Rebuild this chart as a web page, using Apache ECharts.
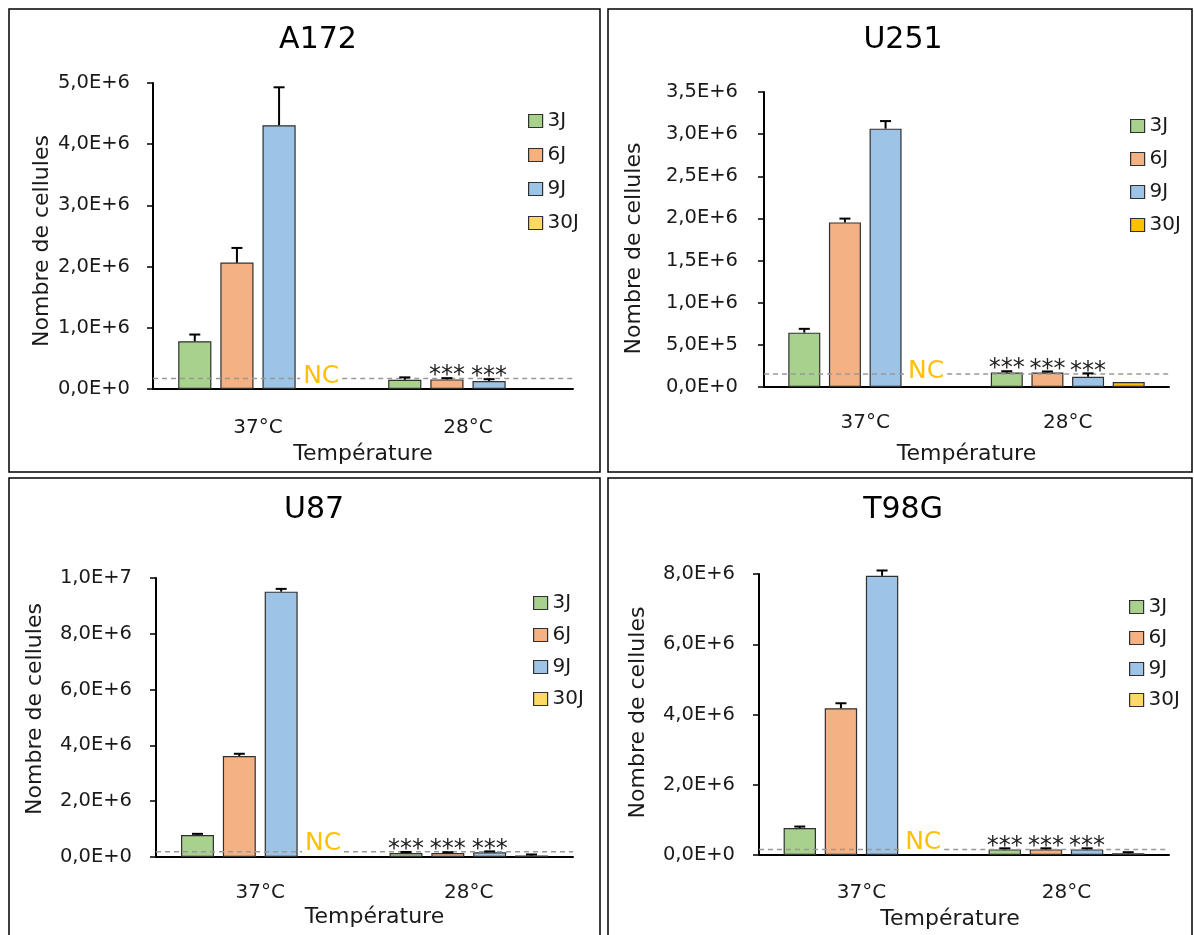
<!DOCTYPE html>
<html><head><meta charset="utf-8">
<script src="https://cdn.jsdelivr.net/npm/echarts@6/dist/echarts.min.js"></script>
<style>html,body{margin:0;padding:0;background:#fff}#c{width:1194px;height:935px}</style>
</head><body><div id="c"></div>
<script>
// ---------- shared labels ----------
const categories = ['37°C', '28°C'];
const seriesNames = ['3J', '6J', '9J', '30J'];
const xAxisName = 'Température';
const yAxisName = 'Nombre de cellules';
const ncText = 'NC';

// ---------- A172 ----------
const a172Means  = [[780000, 150000], [2065000, 157000], [4310000, 130000], [null, null]];
const a172Errors = [[110000, 40000], [240000, 20000], [620000, 30000], [null, null]];
const a172Stars  = [['', ''], ['', '***'], ['', '***'], ['', '']];
const a172NC = 170000;
const a172Ticks = ['0,0E+0', '1,0E+6', '2,0E+6', '3,0E+6', '4,0E+6', '5,0E+6'];
const a172Interval = 1000000;

// ---------- U251 ----------
const u251Means  = [[645000, 172000], [1953000, 172000], [3065000, 122000], [null, 60000]];
const u251Errors = [[45000, 15000], [45000, 12000], [90000, 40000], [null, 0]];
const u251Stars  = [['', '***'], ['', '***'], ['', '***'], ['', '']];
const u251NC = 154000;
const u251Ticks = ['0,0E+0', '5,0E+5', '1,0E+6', '1,5E+6', '2,0E+6', '2,5E+6', '3,0E+6', '3,5E+6'];
const u251Interval = 500000;

// ---------- U87 ----------
const u87Means  = [[790000, 140000], [3620000, 140000], [9510000, 170000], [null, 50000]];
const u87Errors = [[40000, 40000], [80000, 30000], [100000, 30000], [null, 40000]];
const u87Stars  = [['', '***'], ['', '***'], ['', '***'], ['', '']];
const u87NC = 190000;
const u87Ticks = ['0,0E+0', '2,0E+6', '4,0E+6', '6,0E+6', '8,0E+6', '1,0E+7'];
const u87Interval = 2000000;

// ---------- T98G ----------
const t98gMeans  = [[770000, 160000], [4180000, 160000], [7950000, 160000], [null, 50000]];
const t98gErrors = [[40000, 30000], [140000, 30000], [150000, 30000], [null, 30000]];
const t98gStars  = [['', '***'], ['', '***'], ['', '***'], ['', '']];
const t98gNC = 160000;
const t98gTicks = ['0,0E+0', '2,0E+6', '4,0E+6', '6,0E+6', '8,0E+6'];
const t98gInterval = 2000000;

// ---------- styling / layout ----------
const FONT = 'DejaVu Sans';
const TXT = '#1a1a1a';
const BAR_GAP = 0.27, CAT_GAP = 0.24;
const colorsLight = ['#A9D18E', '#F4B183', '#9DC3E6', '#FFD966'];
const colorsU251  = ['#A9D18E', '#F4B183', '#9DC3E6', '#FFC000'];
const BORDER = '#303030';

const panels = [
  { title: 'A172', means: a172Means, errors: a172Errors, stars: a172Stars, nc: a172NC, ticks: a172Ticks, interval: a172Interval, colors: colorsLight,
    grid: { left: 153, top: 83, width: 420, height: 306 }, titlePos: [318, 40], legend: { left: 528, top: 111, gap: 14 }, ncDy: 2.5,
    yNameGap: 100, yNamePad: [0, 10, 0, 0], xNameGap: 54, xNamePad: [0, 0, 0, 0], catMargin: 29, labelMargin: 23, box: [9, 9, 591, 463] },
  { title: 'U251', means: u251Means, errors: u251Errors, stars: u251Stars, nc: u251NC, ticks: u251Ticks, interval: u251Interval, colors: colorsU251,
    grid: { left: 764, top: 92, width: 405, height: 295 }, titlePos: [903, 40], legend: { left: 1130, top: 116, gap: 13 }, ncDy: 3,
    yNameGap: 119, yNamePad: [0, 18, 0, 0], xNameGap: 56, xNamePad: [0, 0, 0, 0], catMargin: 26, labelMargin: 26, box: [608, 9, 584, 463] },
  { title: 'U87', means: u87Means, errors: u87Errors, stars: u87Stars, nc: u87NC, ticks: u87Ticks, interval: u87Interval, colors: colorsLight,
    grid: { left: 156, top: 578, width: 417, height: 279 }, titlePos: [314, 510], legend: { left: 533, top: 593, gap: 12 }, ncDy: 8,
    yNameGap: 110, yNamePad: [0, 0, 0, 17], xNameGap: 49, xNamePad: [0, 0, 0, 20], catMargin: 26, labelMargin: 24, box: [9, 478, 591, 470] },
  { title: 'T98G', means: t98gMeans, errors: t98gErrors, stars: t98gStars, nc: t98gNC, ticks: t98gTicks, interval: t98gInterval, colors: colorsLight,
    grid: { left: 759, top: 574, width: 410, height: 281 }, titlePos: [903, 510], legend: { left: 1129, top: 597, gap: 11 }, ncDy: 6.5,
    yNameGap: 110, yNamePad: [0, 0, 0, 4], xNameGap: 53, xNamePad: [0, 28, 0, 0], catMargin: 28, labelMargin: 24, box: [608, 478, 584, 470] }
];

function slotX(api, cat, slot) {
  const band = api.size([1, 0])[0];
  const groupW = band * (1 - CAT_GAP);
  const bw = groupW / (seriesNames.length + (seriesNames.length - 1) * BAR_GAP);
  return { x: api.coord([cat, 0])[0] - groupW / 2 + slot * bw * (1 + BAR_GAP) + bw / 2, bw: bw };
}

const option = {
  animation: false,
  backgroundColor: '#fff',
  textStyle: { fontFamily: FONT },
  grid: [], xAxis: [], yAxis: [], series: [], legend: [], graphic: []
};

panels.forEach((p, pi) => {
  option.grid.push(Object.assign({ containLabel: false }, p.grid));
  option.xAxis.push({
    type: 'category', gridIndex: pi, data: categories,
    axisLine: { lineStyle: { color: '#000', width: 2 } },
    axisTick: { show: false },
    axisLabel: { fontFamily: FONT, fontSize: 20, color: TXT, margin: p.catMargin },
    name: xAxisName, nameLocation: 'middle', nameGap: p.xNameGap,
    nameTextStyle: { fontFamily: FONT, fontSize: 22, color: TXT, padding: p.xNamePad }
  });
  const interval = p.interval, ticks = p.ticks;
  option.yAxis.push({
    type: 'value', gridIndex: pi, min: 0, max: (ticks.length - 1) * interval, interval: interval,
    axisLine: { show: true, lineStyle: { color: '#000', width: 2 } },
    axisTick: { show: true, length: 6, lineStyle: { color: '#000', width: 1.5 } },
    splitLine: { show: false },
    axisLabel: { fontFamily: FONT, fontSize: 19.5, color: TXT, margin: p.labelMargin,
      formatter: v => { const t = ticks[Math.round(v / interval)]; return t === undefined ? '' : t; } },
    name: yAxisName, nameLocation: 'middle', nameGap: p.yNameGap,
    nameTextStyle: { fontFamily: FONT, fontSize: 22, color: TXT, padding: p.yNamePad }
  });
  seriesNames.forEach((n, si) => {
    option.series.push({
      type: 'bar', name: n, xAxisIndex: pi, yAxisIndex: pi, data: p.means[si],
      barGap: (BAR_GAP * 100) + '%', barCategoryGap: (CAT_GAP * 100) + '%',
      itemStyle: { color: p.colors[si], borderColor: BORDER, borderWidth: 1.2 },
      emphasis: { disabled: true }, z: 2
    });
  });
  // error bars + significance stars
  const errData = [];
  seriesNames.forEach((n, si) => {
    categories.forEach((c, ci) => {
      if (p.means[si][ci] != null) errData.push([ci, p.means[si][ci], p.errors[si][ci] || 0, si]);
    });
  });
  const stars = p.stars;
  option.series.push({
    type: 'custom', name: 'err' + pi, xAxisIndex: pi, yAxisIndex: pi, data: errData, z: 5, silent: true,
    renderItem: (params, api) => {
      const ci = api.value(0), mean = api.value(1), err = api.value(2), si = api.value(3);
      const s = slotX(api, ci, si);
      const yTop = api.coord([ci, mean])[1];
      const yErr = api.coord([ci, mean + err])[1];
      const children = [];
      if (err > 0) {
        children.push({ type: 'line', shape: { x1: s.x, y1: yTop, x2: s.x, y2: yErr }, style: { stroke: '#000', lineWidth: 2 } });
        children.push({ type: 'line', shape: { x1: s.x - 5.5, y1: yErr, x2: s.x + 5.5, y2: yErr }, style: { stroke: '#000', lineWidth: 2 } });
      }
      const st = stars[si][ci];
      if (st) {
        children.push({ type: 'text', x: s.x, y: yErr - 2,
          style: { text: st, fontFamily: FONT, fontSize: 24, fill: '#222', align: 'center', verticalAlign: 'middle' } });
      }
      return { type: 'group', children: children };
    }
  });
  // NC reference line with label in the 37°C / 30J slot
  const ncDy = p.ncDy;
  option.series.push({
    type: 'custom', name: 'nc' + pi, xAxisIndex: pi, yAxisIndex: pi, data: [[0, p.nc, 3]], z: 4, silent: true,
    renderItem: (params, api) => {
      const cs = params.coordSys;
      const y = api.coord([api.value(0), api.value(1)])[1];
      const s = slotX(api, api.value(0), api.value(2));
      const dashStyle = { stroke: '#999', lineWidth: 1.5, lineDash: [5, 4] };
      return { type: 'group', children: [
        { type: 'line', shape: { x1: cs.x, y1: y, x2: s.x - 21, y2: y }, style: dashStyle },
        { type: 'line', shape: { x1: s.x + 21, y1: y, x2: cs.x + cs.width, y2: y }, style: dashStyle },
        { type: 'text', x: s.x, y: y - ncDy,
          style: { text: ncText, fontFamily: FONT, fontSize: 25, fill: '#FFC000', align: 'center', verticalAlign: 'middle' } }
      ] };
    }
  });
  option.legend.push({
    orient: 'vertical', left: p.legend.left, top: p.legend.top, itemGap: p.legend.gap,
    itemWidth: 14, itemHeight: 13, itemTextGap: 8, icon: 'rect', selectedMode: false, padding: 0,
    textStyle: { fontFamily: FONT, fontSize: 20, color: TXT, lineHeight: 20 },
    data: seriesNames.map((n, si) => ({ name: n, icon: 'rect', itemStyle: { color: p.colors[si], borderColor: BORDER, borderWidth: 1.2 } }))
  });
  option.graphic.push({
    type: 'rect', shape: { x: p.box[0], y: p.box[1], width: p.box[2], height: p.box[3] },
    style: { fill: 'none', stroke: '#000', lineWidth: 1.5 }, silent: true, z: 0
  });
  option.graphic.push({
    type: 'text', x: p.titlePos[0], y: p.titlePos[1], silent: true,
    style: { text: p.title, fontFamily: FONT, fontSize: 30, fill: '#000', align: 'center', verticalAlign: 'middle' }
  });
});

const chart = echarts.init(document.getElementById('c'), null, { renderer: 'canvas' });
chart.setOption(option);
</script>
</body></html>
